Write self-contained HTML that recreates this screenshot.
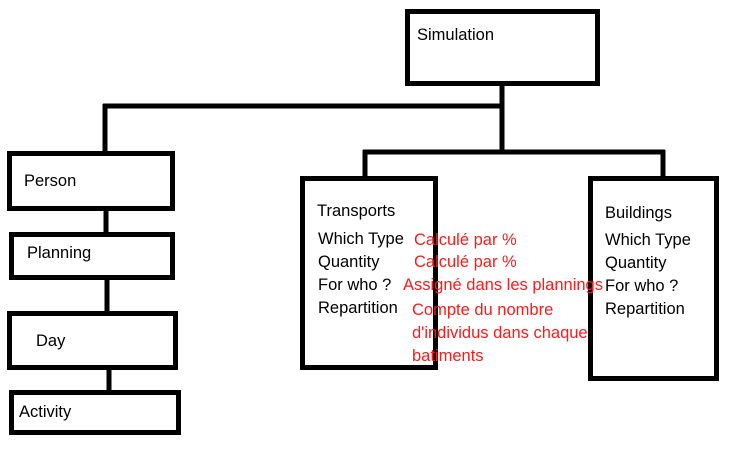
<!DOCTYPE html>
<html><head><meta charset="utf-8"><style>
html,body{margin:0;padding:0;background:#fff;}
svg{display:block;}
text{font-family:"Liberation Sans",sans-serif;font-size:16.5px;}
.r{fill:#ff1a1a;}
</style></head><body>
<svg width="732" height="454" viewBox="0 0 732 454" xmlns="http://www.w3.org/2000/svg">
<g fill="none" stroke="#000" stroke-width="5">
<rect x="407.5" y="11.5" width="190" height="72"/>
<line x1="502" y1="84" x2="502" y2="152"/>
<line x1="103" y1="106" x2="502" y2="106"/>
<line x1="105" y1="104" x2="105" y2="152"/>
<line x1="363" y1="152" x2="665" y2="152"/>
<line x1="365" y1="150" x2="365" y2="178"/>
<line x1="663" y1="150" x2="663" y2="178"/>
<rect x="9.5" y="153.5" width="163" height="55"/>
<line x1="106" y1="209" x2="106" y2="233"/>
<rect x="11.5" y="234.5" width="161" height="43"/>
<line x1="107" y1="278" x2="107" y2="313"/>
<rect x="9.5" y="313.5" width="166" height="54"/>
<line x1="109" y1="368" x2="109" y2="391"/>
<rect x="11.5" y="392.5" width="167" height="40"/>
<rect x="302.5" y="178.5" width="133" height="189"/>
<rect x="590.5" y="178.5" width="126" height="200"/>
</g>
<text x="417" y="40">Simulation</text>
<text x="24" y="186">Person</text>
<text x="27" y="258">Planning</text>
<text x="36" y="346">Day</text>
<text x="19" y="417">Activity</text>
<text x="317" y="216">Transports</text>
<text x="318" y="244">Which Type</text>
<text x="318" y="267">Quantity</text>
<text x="318" y="290">For who ?</text>
<text x="318" y="313">Repartition</text>
<text x="605" y="218">Buildings</text>
<text x="605" y="245">Which Type</text>
<text x="605" y="268">Quantity</text>
<text x="605" y="291">For who ?</text>
<text x="605" y="314">Repartition</text>
<text class="r" x="414" y="245">Calculé par %</text>
<text class="r" x="414" y="267">Calculé par %</text>
<text class="r" x="403" y="290">Assigné dans les plannings</text>
<text class="r" x="412" y="315">Compte du nombre</text>
<text class="r" x="412" y="338">d'individus dans chaque</text>
<text class="r" x="412" y="361">batiments</text>
</svg>
</body></html>
